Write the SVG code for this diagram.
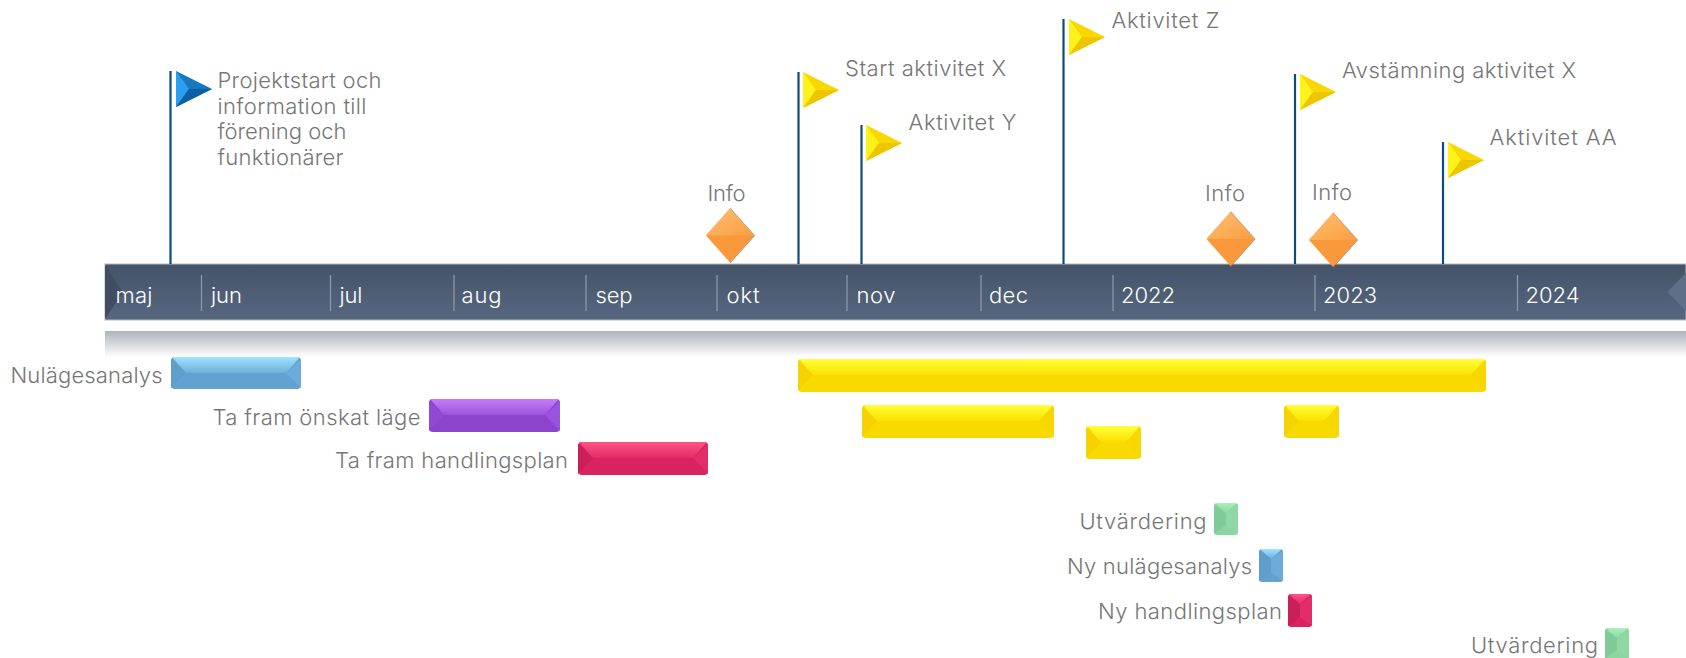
<svg xmlns="http://www.w3.org/2000/svg" width="1686" height="658" viewBox="0 0 1686 658">
<style>
text{font-family:"Inter","Liberation Sans",sans-serif;font-weight:300;font-size:22px;fill:#767676}
.m{fill:#fff;font-size:22px}
.tick{stroke:#8f9bab;stroke-width:1.2}
.pole{stroke:#0d4a7e;stroke-width:2.2;fill:none}
.yb{fill:#f9da00}.yt{fill:url(#gy)}.yl{fill:#f6d200}.yr{fill:#f8d600}
.pb{fill:#8c44cc}.pt{fill:url(#gp)}.pl{fill:#9049d3}.pr{fill:#9a53df}
.rb{fill:#d82360}.rt{fill:url(#gr)}.rl{fill:#cb1f59}.rr{fill:#e22d6a}
.bb{fill:#62a2d0}.bt{fill:url(#gb)}.bl{fill:#5f9ecc}.br{fill:#6cacda}
.gb{fill:#8bd5a0}.gt{fill:url(#gg)}.gl{fill:#80ca96}.gr{fill:#8fd8a5}
</style>
<defs>
<linearGradient id="bar" x1="0" y1="0" x2="0" y2="1"><stop offset="0" stop-color="#455368"/><stop offset="1" stop-color="#566780"/></linearGradient>
<linearGradient id="sh" x1="0" y1="0" x2="0" y2="1"><stop offset="0" stop-color="#adb3bd"/><stop offset=".45" stop-color="#d2d5da"/><stop offset="1" stop-color="#ffffff"/></linearGradient>
<linearGradient id="gy" x1="0" y1="0" x2="0" y2="1"><stop offset="0" stop-color="#ffff3a"/><stop offset="1" stop-color="#fbe000"/></linearGradient>
<linearGradient id="gp" x1="0" y1="0" x2="0" y2="1"><stop offset="0" stop-color="#c67cf8"/><stop offset="1" stop-color="#9a55de"/></linearGradient>
<linearGradient id="gr" x1="0" y1="0" x2="0" y2="1"><stop offset="0" stop-color="#ff5586"/><stop offset="1" stop-color="#e12b68"/></linearGradient>
<linearGradient id="gb" x1="0" y1="0" x2="0" y2="1"><stop offset="0" stop-color="#a2e4ff"/><stop offset="1" stop-color="#6eaedb"/></linearGradient>
<linearGradient id="gg" x1="0" y1="0" x2="0" y2="1"><stop offset="0" stop-color="#a8efbd"/><stop offset="1" stop-color="#8fd9a5"/></linearGradient>
<linearGradient id="dt" x1="0" y1="0" x2="1" y2="1"><stop offset="0" stop-color="#ffc070"/><stop offset="1" stop-color="#fa9e42"/></linearGradient>
<g id="flagY"><polygon points="0,0 36,18 0,36" fill="#f8d800"/><polygon points="0,0 13,18 0,36" fill="#fff21a"/><polygon points="0,36 36,18 13,18" fill="#eec600"/></g>
<g id="flagB"><polygon points="0,0 36,18 0,36" fill="#1678c0"/><polygon points="0,0 13,18 0,36" fill="#2b9fee"/><polygon points="0,36 36,18 13,18" fill="#0c5fa2"/></g>
<g id="dia"><polygon points="0,-27 24,0 0,27 -24,0" fill="#f9993c"/><polygon points="0,-27 24,0 -24,0" fill="url(#dt)"/><polygon points="0,27 24,0 25,0 0,28" fill="#b5743a"/><polygon points="0,-27 24,0 25,0 0,-28" fill="#c99060"/></g>
</defs>

<g id="timeline">
<rect x="105" y="331" width="1581" height="26" fill="url(#sh)"/>
<rect x="105" y="264" width="1581" height="56" fill="url(#bar)" stroke="#b4b8bf" stroke-width="1"/>
<polygon points="105,265 123,292 105,319" fill="#414e62"/>
<polygon points="1686,273 1667,292 1686,311" fill="#5f6f87"/>
<path class="tick" d="M201.500 275V311M330.500 275V311M454 275V311M586 275V311M717 275V311M847 275V311M981 275V311M1113 275V311M1315 275V311M1517.500 275V311"/>
<text class="m" x="115.500" y="303" textLength="37" lengthAdjust="spacing">maj</text>
<text class="m" x="211" y="303" textLength="31" lengthAdjust="spacing">jun</text>
<text class="m" x="339.500" y="303" textLength="23" lengthAdjust="spacing">jul</text>
<text class="m" x="461.500" y="303" textLength="40" lengthAdjust="spacing">aug</text>
<text class="m" x="595.500" y="303" textLength="37" lengthAdjust="spacing">sep</text>
<text class="m" x="726.500" y="303" textLength="33" lengthAdjust="spacing">okt</text>
<text class="m" x="856.500" y="303" textLength="39" lengthAdjust="spacing">nov</text>
<text class="m" x="989" y="303" textLength="39" lengthAdjust="spacing">dec</text>
<text class="m" x="1121" y="303" textLength="54" lengthAdjust="spacing">2022</text>
<text class="m" x="1323" y="303" textLength="54" lengthAdjust="spacing">2023</text>
<text class="m" x="1525.500" y="303" textLength="54" lengthAdjust="spacing">2024</text>
</g>

<g id="connectors">
<line class="pole" x1="170.500" y1="71" x2="170.500" y2="264"/>
<line class="pole" x1="798.500" y1="72" x2="798.500" y2="264"/>
<line class="pole" x1="861.500" y1="125" x2="861.500" y2="264"/>
<line class="pole" x1="1063.500" y1="19" x2="1063.500" y2="264"/>
<line class="pole" x1="1295" y1="74" x2="1295" y2="264"/>
<line class="pole" x1="1443" y1="142" x2="1443" y2="264"/>
</g>

<g id="m-projektstart"><use href="#flagB" x="176" y="71"/>
<text x="217.500" y="88" textLength="164" lengthAdjust="spacing">Projektstart och</text>
<text x="217.500" y="113.500" textLength="149" lengthAdjust="spacing">information till</text>
<text x="217.500" y="139" textLength="129" lengthAdjust="spacing">förening och</text>
<text x="217.500" y="165" textLength="126" lengthAdjust="spacing">funktionärer</text></g>
<g id="m-start-x"><use href="#flagY" x="803" y="72"/><text x="845" y="75.500" textLength="161" lengthAdjust="spacing">Start aktivitet X</text></g>
<g id="m-y"><use href="#flagY" x="866" y="125"/><text x="908.500" y="130" textLength="108" lengthAdjust="spacing">Aktivitet Y</text></g>
<g id="m-z"><use href="#flagY" x="1069" y="19"/><text x="1111.500" y="27.500" textLength="108" lengthAdjust="spacing">Aktivitet Z</text></g>
<g id="m-avst"><use href="#flagY" x="1300" y="74"/><text x="1342" y="78" textLength="234" lengthAdjust="spacing">Avstämning aktivitet X</text></g>
<g id="m-aa"><use href="#flagY" x="1448" y="142"/><text x="1489.500" y="145" textLength="127" lengthAdjust="spacing">Aktivitet AA</text></g>

<g id="d-info1"><use href="#dia" x="730" y="235.500"/><text x="707.500" y="200.500" textLength="38" lengthAdjust="spacing">Info</text></g>
<g id="d-info2"><use href="#dia" x="1230.500" y="239"/><text x="1205" y="200.500" textLength="40" lengthAdjust="spacing">Info</text></g>
<g id="d-info3"><use href="#dia" x="1333" y="240"/><text x="1312" y="199.500" textLength="40" lengthAdjust="spacing">Info</text></g>

<g id="t-nulage"><rect class="bb" x="171" y="357" width="130" height="32" rx="4"/><polygon class="bt" points="172,357 300,357 286,373 186,373"/><polygon class="bl" points="171,359 186,373 171,388"/><polygon class="br" points="301,359 286,373 301,388"/><text x="10.500" y="382.500" textLength="152" lengthAdjust="spacing">Nulägesanalys</text></g>
<g id="t-onskat"><rect class="pb" x="429" y="399" width="131" height="33" rx="4"/><polygon class="pt" points="430,399 559,399 545,415 444,415"/><polygon class="pl" points="429,401 444,415 429,431"/><polygon class="pr" points="560,401 545,415 560,431"/><text x="212.500" y="425" textLength="208" lengthAdjust="spacing">Ta fram önskat läge</text></g>
<g id="t-handling"><rect class="rb" x="578" y="442" width="130" height="33" rx="4"/><polygon class="rt" points="579,442 707,442 693,458 593,458"/><polygon class="rl" points="578,444 593,458 578,474"/><polygon class="rr" points="708,444 693,458 708,474"/><text x="335" y="468" textLength="233" lengthAdjust="spacing">Ta fram handlingsplan</text></g>
<g id="t-yellow1"><rect class="yb" x="798" y="359" width="688" height="33" rx="4"/><polygon class="yt" points="799,359 1485,359 1471,375 813,375"/><polygon class="yl" points="798,361 813,375 798,391"/><polygon class="yr" points="1486,361 1471,375 1486,391"/></g>
<g id="t-yellow2"><rect class="yb" x="862" y="405" width="192" height="33" rx="4"/><polygon class="yt" points="863,405 1053,405 1039,421 877,421"/><polygon class="yl" points="862,407 877,421 862,437"/><polygon class="yr" points="1054,407 1039,421 1054,437"/></g>
<g id="t-yellow3"><rect class="yb" x="1086" y="426" width="55" height="33" rx="4"/><polygon class="yt" points="1087,426 1140,426 1126,442 1101,442"/><polygon class="yl" points="1086,428 1101,442 1086,458"/><polygon class="yr" points="1141,428 1126,442 1141,458"/></g>
<g id="t-yellow4"><rect class="yb" x="1284" y="405" width="55" height="33" rx="4"/><polygon class="yt" points="1285,405 1338,405 1324,421 1299,421"/><polygon class="yl" points="1284,407 1299,421 1284,437"/><polygon class="yr" points="1339,407 1324,421 1339,437"/></g>

<g id="t-utv1"><rect class="gb" x="1214" y="503" width="24" height="32" rx="3"/><polygon class="gl" points="1214,505 1226,513 1226,525 1214,534"/><polygon class="gr" points="1238,505 1226,513 1226,525 1238,534"/><polygon class="gt" points="1215,503 1237,503 1226,513"/><text x="1079.500" y="529" textLength="127" lengthAdjust="spacing">Utvärdering</text></g>
<g id="t-nyn"><rect class="bb" x="1259" y="549" width="24" height="33" rx="3"/><polygon class="bl" points="1259,551 1271,559 1271,572 1259,581"/><polygon class="br" points="1283,551 1271,559 1271,572 1283,581"/><polygon class="bt" points="1260,549 1282,549 1271,559"/><text x="1067" y="574" textLength="185" lengthAdjust="spacing">Ny nulägesanalys</text></g>
<g id="t-nyh"><rect class="rb" x="1288" y="594" width="24" height="33" rx="3"/><polygon class="rl" points="1288,596 1300,604 1300,617 1288,626"/><polygon class="rr" points="1312,596 1300,604 1300,617 1312,626"/><polygon class="rt" points="1289,594 1311,594 1300,604"/><text x="1098" y="619" textLength="184" lengthAdjust="spacing">Ny handlingsplan</text></g>
<g id="t-utv2"><rect class="gb" x="1605" y="628" width="24" height="32" rx="3"/><polygon class="gl" points="1605,630 1617,638 1617,650 1605,659"/><polygon class="gr" points="1629,630 1617,638 1617,650 1629,659"/><polygon class="gt" points="1606,628 1628,628 1617,638"/><text x="1471" y="653" textLength="127" lengthAdjust="spacing">Utvärdering</text></g>
</svg>
